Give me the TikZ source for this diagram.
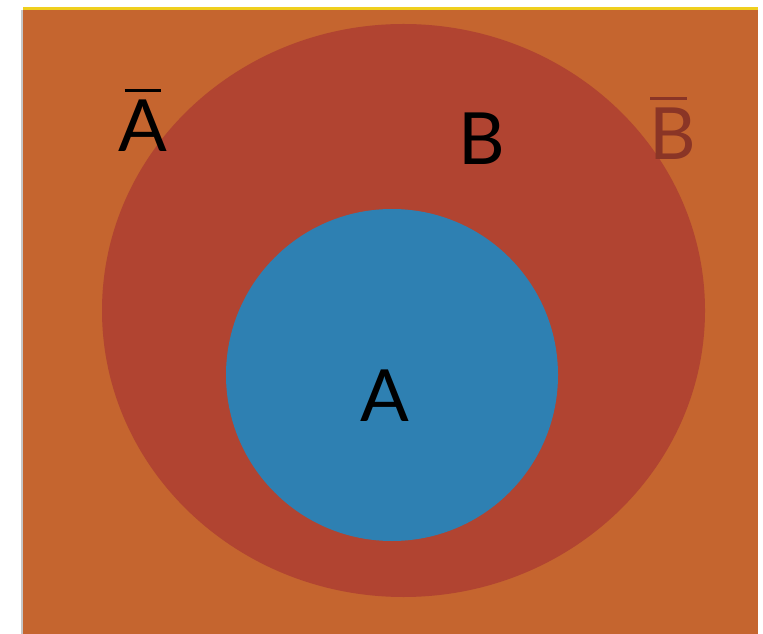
\documentclass[tikz,border=0pt]{standalone}
\usepackage{fontspec}
\setmainfont{Lato}
\definecolor{paperorange}{HTML}{C5652F}
\definecolor{paperred}{HTML}{B14431}
\definecolor{paperblue}{HTML}{2E80B2}
\definecolor{darkred}{HTML}{8A3526}
\definecolor{edgeyellow}{HTML}{EFCF1E}
% Komplement: Balken ueber dem Buchstaben
\newcommand\complset[2][0pt]{%
  \setbox0\hbox{#2}%
  \vbox{\offinterlineskip
    \hbox to \wd0{\hss\kern#1\rule{21pt}{1.7pt}\hss}%
    \kern5pt
    \box0}}
\tikzset{
    setlabel/.style={anchor=base, inner sep=0pt, font=\fontsize{41}{41}\selectfont}
}
\begin{document}
\begin{tikzpicture}[x=0.02cm, y=-0.02cm]

    % Rahmen
    \useasboundingbox (0, 0) rectangle (763, 634);
    \fill[gray!45] (21, 10) rectangle (23, 634);
    \fill[paperorange] (23, 10) rectangle (758, 634);
    \fill[edgeyellow] (23, 7) rectangle (758, 10);

    % Mengen
    \fill[paperred] (403.5, 310.5) ellipse [x radius=301.5, y radius=286.5];
    \fill[paperblue] (392, 375) circle [radius=166];

    % Beschriftung
    \node[setlabel] (notA) at (143, 152) {\complset{A}};
    \node[setlabel] (setB) at (482, 165) {B};
    \node[setlabel, text=darkred] (notB) at (673, 160) {\complset[-5pt]{B}};
    \node[setlabel] (setA) at (385, 421) {A};

\end{tikzpicture}
\end{document}
